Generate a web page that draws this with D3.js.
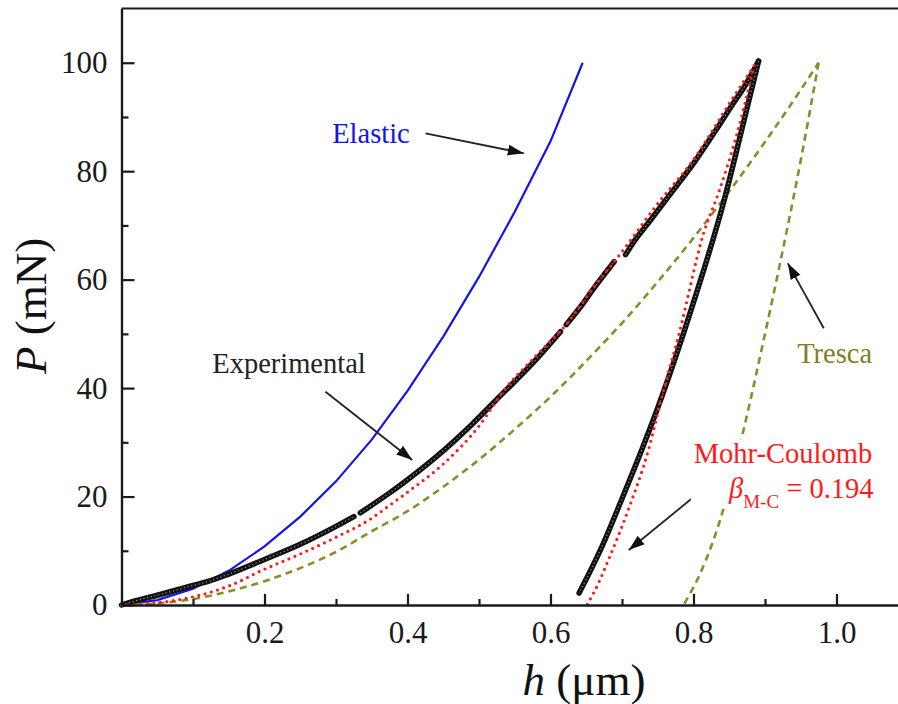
<!DOCTYPE html>
<html>
<head>
<meta charset="utf-8">
<script src="https://cdn.jsdelivr.net/npm/d3@7"></script>
<style>
body { margin: 0; background: #fff; }
svg text { font-family: "Liberation Serif", "Times New Roman", serif; }
</style>
</head>
<body>
<svg id="chart" width="898" height="704"></svg>
<script>
// values (h in um, P in mN); null = break in the record
var elasticH = [0, 0.05, 0.1, 0.15, 0.2, 0.25, 0.3, 0.35, 0.4, 0.45, 0.5, 0.55, 0.6, 0.645];
var elasticP = [0, 0.9, 3.0, 6.3, 10.8, 16.3, 22.8, 30.5, 39.5, 49.5, 60.5, 72.5, 85.5, 100];

var expLoadH = [0, 0.02, 0.05, 0.1, 0.12, 0.15, 0.2, 0.25, 0.3, 0.325, null, 0.334, 0.372, 0.395, 0.44, 0.49, 0.53, 0.58, 0.614, null,
                0.622, 0.642, 0.66, 0.689, null, 0.705, 0.714, 0.74, 0.763, 0.803, 0.83, 0.852, 0.875, 0.891];
var expLoadP = [0, 0.8, 1.8, 3.6, 4.3, 5.7, 8.4, 11.2, 14.5, 16.3, null, 17.0, 20.4, 22.6, 27.3, 33.3, 38.6, 45.3, 50.4, null,
                51.7, 55.0, 58.3, 63.3, null, 64.6, 66.5, 71.0, 75.0, 82.0, 87.3, 91.8, 96.4, 100.3];
var expUnloadH = [0.891, 0.87, 0.842, 0.8, 0.754, 0.73, 0.7, 0.67, 0.64];
var expUnloadP = [100.3, 89, 74.2, 55.8, 37.8, 29.4, 19.6, 10.2, 2.2];

var mcLoadH = [0, 0.05, 0.1, 0.15, 0.2, 0.25, 0.3, 0.35, 0.372, 0.4, 0.45, 0.5, 0.535, 0.58, 0.623, 0.66, 0.698, 0.754, 0.796, 0.856, 0.885];
var mcLoadP = [0, 0.4, 1.5, 3.5, 6.6, 9.4, 12.5, 16.0, 18.1, 20.8, 26.0, 33.0, 39.6, 46.0, 51.9, 58.5, 64.8, 74.7, 81.4, 93.7, 99.5];
var mcUnloadH = [0.885, 0.86, 0.835, 0.814, 0.78, 0.755, 0.737, 0.71, 0.68, 0.667, 0.651];
var mcUnloadP = [99.5, 86.5, 76, 68.5, 50.1, 38, 28.6, 18, 8, 4, 0];

var trLoadH = [0, 0.05, 0.1, 0.15, 0.2, 0.25, 0.3, 0.35, 0.4, 0.45, 0.5, 0.55, 0.6, 0.65, 0.7, 0.75, 0.8, 0.85, 0.9, 0.95, 0.975];
var trLoadP = [0, 0.3, 1.1, 2.5, 4.4, 6.8, 9.8, 13.6, 17.3, 21.8, 26.8, 32.4, 38.4, 45.0, 52.0, 59.6, 67.7, 76.3, 85.4, 95.0, 100];
var trUnloadH = [0.975, 0.95, 0.922, 0.9, 0.87, 0.838, 0.81, 0.786];
var trUnloadP = [100, 82, 63.6, 50, 32.3, 16, 6, 0];

var xMajor = [0.2, 0.4, 0.6, 0.8, 1.0];
var xMinor = [0.1, 0.3, 0.5, 0.7, 0.9];
var yMajor = [0, 20, 40, 60, 80, 100];
var yMinor = [10, 30, 50, 70, 90];

var svg = d3.select('#chart');

var x = d3.scaleLinear().domain([0, 1.1]).range([121.5, 908]);
var y = d3.scaleLinear().domain([0, 110]).range([605, 8.5]);

function pts(hs, ps) {
    return hs.map(function(h, i) { return { h: h, p: ps[i] }; });
}

var line = d3.line()
    .defined(function(d) { return d.h != null; })
    .curve(d3.curveMonotoneX)
    .x(function(d) { return x(d.h); })
    .y(function(d) { return y(d.p); });

// model curves
svg.append('path').datum(pts(elasticH, elasticP))
    .attr('d', line.curve(d3.curveLinear)).attr('fill', 'none')
    .attr('stroke', '#1414e6').attr('stroke-width', 2.2);
line.curve(d3.curveMonotoneX);

[pts(trLoadH, trLoadP), pts(trUnloadH, trUnloadP)].forEach(function(s) {
    svg.append('path').datum(s)
        .attr('d', line).attr('fill', 'none')
        .attr('stroke', '#8c8c2a').attr('stroke-width', 2.6)
        .attr('stroke-dasharray', '7 5');
});

// experimental: dense circle markers -> thick chain
[pts(expLoadH, expLoadP), pts(expUnloadH, expUnloadP)].forEach(function(s) {
    svg.append('path').datum(s)
        .attr('d', line).attr('fill', 'none')
        .attr('stroke', '#111').attr('stroke-width', 5.5)
        .attr('stroke-linecap', 'round').attr('stroke-linejoin', 'round');
    svg.append('path').datum(s)
        .attr('d', line).attr('fill', 'none')
        .attr('stroke', '#8a8a8a').attr('stroke-width', 1.3)
        .attr('stroke-dasharray', '1.2 2.6');
});

[pts(mcLoadH, mcLoadP), pts(mcUnloadH, mcUnloadP)].forEach(function(s) {
    svg.append('path').datum(s)
        .attr('d', line).attr('fill', 'none')
        .attr('stroke', '#ff1a1a').attr('stroke-width', 3.2)
        .attr('stroke-linecap', 'round')
        .attr('stroke-dasharray', '0 6.5');
});

// axes
var ax = svg.append('g').attr('transform', 'translate(0,' + y(0) + ')');
ax.call(d3.axisBottom(x).tickValues(xMajor).tickSize(-11).tickSizeOuter(0).tickPadding(16).tickFormat(d3.format('.1f')));
ax.append('g').call(d3.axisBottom(x).tickValues(xMinor).tickSize(-6).tickSizeOuter(0).tickFormat(''));

var ay = svg.append('g').attr('transform', 'translate(' + x(0) + ',0)');
ay.call(d3.axisLeft(y).tickValues(yMajor).tickSize(-13).tickSizeOuter(0).tickPadding(14).tickFormat(d3.format('d')));
ay.append('g').call(d3.axisLeft(y).tickValues(yMinor).tickSize(-7).tickSizeOuter(0).tickFormat(''));

svg.selectAll('.domain, .tick line').attr('stroke', '#1a1a1a').attr('stroke-width', 2.2);
svg.selectAll('.tick text').attr('font-size', 31).attr('fill', '#1a1a1a')
    .style('font-family', '"Liberation Serif", serif');

svg.append('line')
    .attr('x1', x(0)).attr('x2', 898).attr('y1', y(110)).attr('y2', y(110))
    .attr('stroke', '#1a1a1a').attr('stroke-width', 2.2);

// axis titles
var yt = svg.append('text')
    .attr('transform', 'translate(46,' + 306 + ') rotate(-90)')
    .attr('text-anchor', 'middle').attr('font-size', 45).attr('fill', '#111');
yt.append('tspan').attr('font-style', 'italic').text('P');
yt.append('tspan').text(' (mN)');

var xt = svg.append('text')
    .attr('x', 584).attr('y', 695)
    .attr('text-anchor', 'middle').attr('font-size', 45).attr('fill', '#111');
xt.append('tspan').attr('font-style', 'italic').text('h');
xt.append('tspan').text(' (\u03bcm)');

// annotations (positions in data units)
svg.append('defs').append('marker')
    .attr('id', 'head').attr('markerUnits', 'userSpaceOnUse')
    .attr('viewBox', '0 -6 16 12').attr('refX', 16).attr('refY', 0)
    .attr('markerWidth', 16).attr('markerHeight', 12).attr('orient', 'auto')
    .append('path').attr('d', 'M0,-5.5L16,0L0,5.5Z').attr('fill', '#111');

function arrow(h1, p1, h2, p2) {
    svg.append('line')
        .attr('x1', x(h1)).attr('y1', y(p1)).attr('x2', x(h2)).attr('y2', y(p2))
        .attr('stroke', '#222').attr('stroke-width', 1.8)
        .attr('marker-end', 'url(#head)');
}

arrow(0.4252, 86.98, 0.5627, 83.30);
arrow(0.2853, 39.33, 0.4066, 26.74);
arrow(0.9822, 51.03, 0.9319, 63.01);
arrow(0.8122, 21.21, 0.7095, 10.14);

svg.append('text').attr('x', x(0.2947)).attr('y', y(85.25))
    .attr('font-size', 28.5).attr('fill', '#1414e6').text('Elastic');
svg.append('text').attr('x', x(0.1269)).attr('y', y(42.84))
    .attr('font-size', 28.5).attr('fill', '#222').text('Experimental');
svg.append('text').attr('x', x(0.945)).attr('y', y(44.57))
    .attr('font-size', 28.5).attr('fill', '#7f7f22').text('Tresca');

// Mohr-Coulomb label sits on a white box that hides the Tresca line
svg.append('rect')
    .attr('x', x(0.8004) - 3).attr('y', y(26.13) - 24)
    .attr('width', x(1.0518) - x(0.8004) + 6).attr('height', 66)
    .attr('fill', '#fff');
svg.append('text').attr('x', x(0.8004)).attr('y', y(26.13))
    .attr('font-size', 28.5).attr('fill', '#ff1a1a').text('Mohr-Coulomb');
var beta = svg.append('text').attr('x', x(1.0518)).attr('y', y(19.68))
    .attr('text-anchor', 'end').attr('font-size', 28.5).attr('fill', '#ff1a1a');
beta.append('tspan').attr('font-style', 'italic').text('\u03b2');
beta.append('tspan').attr('font-size', 19).attr('dy', 10).text('M-C');
beta.append('tspan').attr('dy', -10).text(' = 0.194');
</script>
</body>
</html>
